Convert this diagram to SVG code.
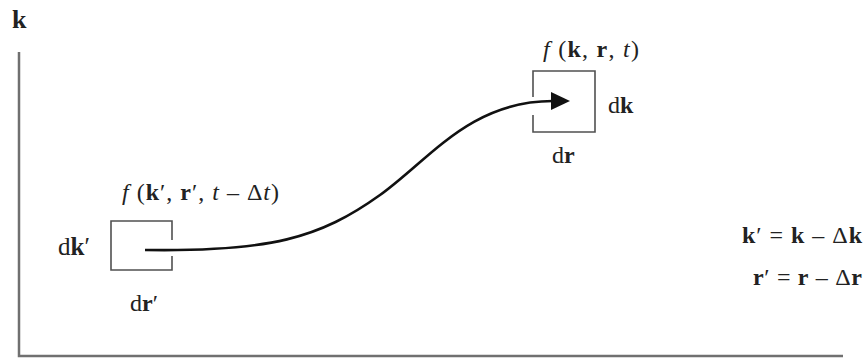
<svg xmlns="http://www.w3.org/2000/svg" width="865" height="359" viewBox="0 0 865 359">
  <style>
    text { font-family: "Liberation Serif", "Times New Roman", serif; font-size: 24px; fill: #222; }
    .b { font-weight: bold; }
    .i { font-style: italic; }
    .axis { fill: none; stroke: #707070; stroke-width: 2.5; }
    .cell { fill: none; stroke: #505050; stroke-width: 1.6; }
    .flow { fill: none; stroke: #111; stroke-width: 2.6; }
  </style>
  <defs>
    <marker id="head" viewBox="0 0 20 20" refX="2" refY="10" markerWidth="20" markerHeight="20" markerUnits="userSpaceOnUse" orient="auto">
      <path d="M0,1 L19,10 L0,19 Z" fill="#111"/>
    </marker>
  </defs>
  <rect width="865" height="359" fill="#fff"/>

  <!-- axes -->
  <g id="axes">
    <path class="axis" d="M19,52 L19,356 L843,356"/>
    <text x="12" y="28" class="b" style="font-size:26px">k</text>
  </g>

  <!-- earlier cell in phase space -->
  <g id="cell-prev">
    <path class="cell" d="M172,240 L172,221 L111,221 L111,270 L172,270 L172,256"/>
    <text x="122" y="200" textLength="157" lengthAdjust="spacing"><tspan class="i">f</tspan> (<tspan class="b">k</tspan>′, <tspan class="b">r</tspan>′, <tspan class="i">t</tspan> – Δ<tspan class="i">t</tspan>)</text>
    <text x="58" y="255" style="font-size:25px">d<tspan class="b">k</tspan>′</text>
    <text x="130" y="311">d<tspan class="b">r</tspan>′</text>
  </g>

  <!-- current cell in phase space -->
  <g id="cell-now">
    <path class="cell" d="M533,97 L533,71 L595,71 L595,132 L533,132 L533,115"/>
    <text x="543" y="57" textLength="96" lengthAdjust="spacing"><tspan class="i">f</tspan> (<tspan class="b">k</tspan>, <tspan class="b">r</tspan>, <tspan class="i">t</tspan>)</text>
    <text x="608" y="113">d<tspan class="b">k</tspan></text>
    <text x="552" y="163">d<tspan class="b">r</tspan></text>
  </g>

  <!-- relations -->
  <g id="relations">
    <text x="742" y="243" textLength="120" lengthAdjust="spacing"><tspan class="b">k</tspan>′ = <tspan class="b">k</tspan> – Δ<tspan class="b">k</tspan></text>
    <text x="753" y="285" textLength="109" lengthAdjust="spacing"><tspan class="b">r</tspan>′ = <tspan class="b">r</tspan> – Δ<tspan class="b">r</tspan></text>
  </g>

  <!-- trajectory -->
  <g id="connectors">
    <path class="flow" marker-end="url(#head)" d="M145,250 C270,252 320,238 380,195 C430,159 470,101 553,101"/>
  </g>
</svg>
